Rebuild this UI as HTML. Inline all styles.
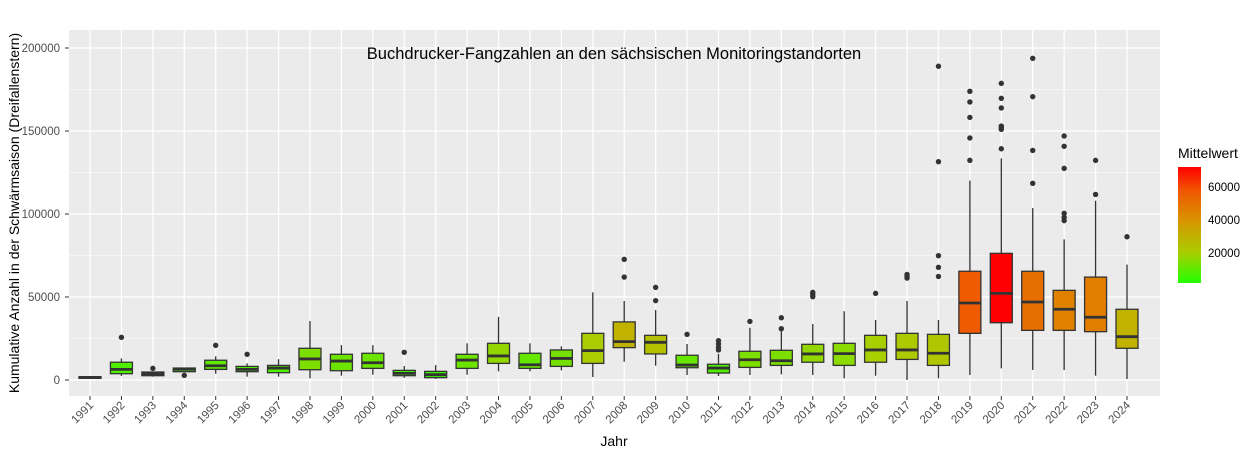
<!DOCTYPE html>
<html><head><meta charset="utf-8"><style>
body{margin:0;background:#fff;}
svg{display:block;font-family:"Liberation Sans",Arial,sans-serif;}
</style></head><body>
<svg id="chart" width="1257" height="456" viewBox="0 0 1257 456" xmlns="http://www.w3.org/2000/svg">
<rect x="69" y="30" width="1091" height="366" fill="#ebebeb"/>
<g id="grid"></g>
<g id="boxes"></g>
<g id="axes"></g>
<text x="614" y="59" font-size="16.5" text-anchor="middle" fill="#000">Buchdrucker-Fangzahlen an den sächsischen Monitoringstandorten</text>
<text x="614" y="446" font-size="14" text-anchor="middle" fill="#000">Jahr</text>
<text transform="translate(19,213) rotate(-90)" font-size="14" text-anchor="middle" fill="#000">Kumulative Anzahl  in der Schwärmsaison (Dreifallenstern)</text>
<g>
<defs><linearGradient id="lg" x1="0" y1="1" x2="0" y2="0">
<stop offset="0" stop-color="#22ff00"/><stop offset="0.26" stop-color="#a8cf00"/><stop offset="0.54" stop-color="#d99400"/><stop offset="0.8" stop-color="#f05500"/><stop offset="1" stop-color="#ff0000"/></linearGradient></defs>
<text x="1178" y="158" font-size="14" fill="#000">Mittelwert</text>
<rect x="1178" y="167" width="23" height="116" fill="url(#lg)"/>
<text x="1208" y="191" font-size="11.5" fill="#000">60000</text>
<text x="1208" y="224" font-size="11.5" fill="#000">40000</text>
<text x="1208" y="257" font-size="11.5" fill="#000">20000</text>
</g>
</svg>
<script>
const years=[1991,1992,1993,1994,1995,1996,1997,1998,1999,2000,2001,2002,2003,2004,2005,2006,2007,2008,2009,2010,2011,2012,2013,2014,2015,2016,2017,2018,2019,2020,2021,2022,2023,2024];
const lowW=[800,2400,2000,5000,3800,2000,2000,1000,2600,3200,1300,600,3200,5200,5200,5800,1800,11000,8600,3000,2400,3000,3400,3000,1000,2600,0,1000,3000,7000,6000,6000,2600,600];
const q1=[1000,3800,2600,5000,6400,5000,4400,6200,5600,7000,2600,1400,7000,10000,7000,8200,10000,19500,15700,7400,4200,7600,8800,10700,8800,10700,12400,8800,28100,34500,29900,29900,29100,19100];
const med=[1500,6400,3700,6500,8600,6400,7200,12700,11400,10400,4000,3200,12000,14500,9200,13000,17700,23100,22700,9000,7200,12200,11600,15700,15900,18100,18100,16100,46400,52200,47000,42600,37800,26100];
const q3=[2000,10700,4800,7200,11900,8200,8800,19100,15500,16100,5800,5200,15500,22100,16100,18100,28100,35000,26900,14900,9500,17300,17900,21500,22100,26900,28100,27500,65500,76300,65500,54000,62000,42600];
const highW=[2200,13000,5000,7200,14300,10000,12500,35500,21000,21000,8400,9000,22100,38000,22100,20300,52800,47600,42200,21700,15700,31500,29500,33700,41400,36100,47600,36100,120100,133500,103600,84700,108000,69500];
const means=[1500,8000,4000,6000,10000,7500,7500,14000,12000,12000,6000,5000,12000,17000,11000,13000,21000,30000,25000,11000,8000,14000,14000,17000,16000,20000,22000,23000,58000,72000,52000,46000,47000,30000];
const outliers=[[],[25700],[7000],[2800],[20900],[15500],[],[],[],[],[16700],[],[],[],[],[],[],[72700,62000],[55800,47800],[27500],[23700,21700,19700,18100],[35300],[37500,30900],[52800,51500,50200],[],[52200],[63600,62400,61400],[189000,131500,74900,67900,62400],[173900,167500,158200,145800,132300],[178700,169700,163900,153000,152000,151000,139300],[193800,170700,138300,118500],[147000,140800,127500,100400,98000,96000],[132300,111800],[86300]];
const yTicks=[0,50000,100000,150000,200000];
const yMinor=[25000,75000,125000,175000];

const NS="http://www.w3.org/2000/svg";
const X=i=>90+i*(1127-90)/33;
const Y=v=>380-v*83/50000;
function mk(tag,attrs,parent){const e=document.createElementNS(NS,tag);for(const k in attrs)e.setAttribute(k,attrs[k]);parent.appendChild(e);return e;}
const stops=[[1800,[34,255,0]],[20000,[168,207,0]],[40000,[217,148,0]],[60000,[240,85,0]],[72000,[255,0,0]]];
function col(m){if(m<=stops[0][0])return 'rgb('+stops[0][1]+')';for(let i=1;i<stops.length;i++){if(m<=stops[i][0]){const t=(m-stops[i-1][0])/(stops[i][0]-stops[i-1][0]);const c=stops[i-1][1].map((a,k)=>Math.round(a+(stops[i][1][k]-a)*t));return 'rgb('+c+')';}}return 'rgb(255,0,0)';}
const grid=document.getElementById('grid'),boxes=document.getElementById('boxes'),axes=document.getElementById('axes');
yMinor.forEach(v=>{const l=mk('line',{x1:69,x2:1160,y1:Y(v),y2:Y(v),stroke:'#fff','stroke-width':0.6},grid);

});
yTicks.forEach(v=>{const l=mk('line',{x1:69,x2:1160,y1:Y(v),y2:Y(v),stroke:'#fff','stroke-width':1.3},grid);


const t=mk('text',{x:60,y:Y(v)+4,'font-size':11.5,'text-anchor':'end',fill:'#4d4d4d'},axes);t.textContent=String(v);


mk('line',{x1:65,x2:69,y1:Y(v),y2:Y(v),stroke:'#333'},axes);});
years.forEach((yr,i)=>{const x=X(i);
const g=mk('line',{x1:x,x2:x,y1:30,y2:396,stroke:'#fff','stroke-width':1.3},grid);


mk('line',{x1:x,x2:x,y1:396,y2:400,stroke:'#333'},axes);
const t=mk('text',{transform:`translate(${x+4},${406}) rotate(-45)`,'font-size':11.5,'text-anchor':'end',fill:'#4d4d4d'},axes);t.textContent=yr;


const grp=mk('g',{},boxes);


mk('line',{x1:x,x2:x,y1:Y(highW[i]),y2:Y(q3[i]),stroke:'#333','stroke-width':1.3},grp);
mk('line',{x1:x,x2:x,y1:Y(q1[i]),y2:Y(lowW[i]),stroke:'#333','stroke-width':1.3},grp);
const w=22;
mk('rect',{x:x-w/2,y:Y(q3[i]),width:w,height:Math.max(1,Y(q1[i])-Y(q3[i])),fill:col(means[i]),stroke:'#333','stroke-width':1.3},grp);
mk('line',{x1:x-w/2,x2:x+w/2,y1:Y(med[i]),y2:Y(med[i]),stroke:'#333','stroke-width':2.8},grp);
outliers[i].forEach(v=>{const c=mk('circle',{cx:x,cy:Y(v),r:2.7,fill:'#333'},grp);

});
});
</script>
</body></html>
